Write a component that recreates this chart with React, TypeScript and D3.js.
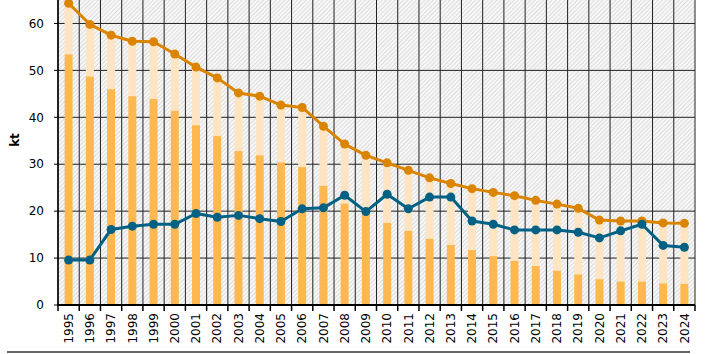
import React, { useEffect, useRef } from 'react';
import * as d3 from 'd3';

const years = [
  '1995', '1996', '1997', '1998', '1999', '2000', '2001', '2002', '2003', '2004',
  '2005', '2006', '2007', '2008', '2009', '2010', '2011', '2012', '2013', '2014',
  '2015', '2016', '2017', '2018', '2019', '2020', '2021', '2022', '2023', '2024',
];

// total (orange line, also top of the stacked bar)
const totalValues = [
  64.3, 59.8, 57.5, 56.2, 56.1, 53.5, 50.7, 48.4, 45.2, 44.5,
  42.6, 42.1, 38.1, 34.3, 31.9, 30.3, 28.7, 27.1, 25.9, 24.8,
  24.0, 23.3, 22.3, 21.5, 20.6, 18.1, 17.9, 17.9, 17.5, 17.4,
];

// dark orange part of the bar
const baseValues = [
  53.4, 48.7, 46.0, 44.5, 43.9, 41.4, 38.3, 36.0, 32.8, 31.9,
  30.4, 29.4, 25.4, 21.6, 19.7, 17.5, 15.8, 14.1, 12.8, 11.7,
  10.4, 9.4, 8.3, 7.3, 6.5, 5.5, 5.0, 5.0, 4.6, 4.5,
];

// blue line
const blueValues = [
  9.6, 9.6, 16.1, 16.8, 17.2, 17.2, 19.5, 18.7, 19.1, 18.4,
  17.8, 20.5, 20.7, 23.4, 19.9, 23.6, 20.5, 23.0, 23.0, 17.9,
  17.2, 16.0, 16.0, 16.0, 15.5, 14.3, 15.8, 17.2, 12.7, 12.3,
];

const yTicks = [0, 10, 20, 30, 40, 50, 60];

const WIDTH = 707;
const HEIGHT = 354;

export default function App() {
  const ref = useRef<SVGSVGElement | null>(null);

  useEffect(() => {
    if (!ref.current) return;
    const svg = d3.select(ref.current);
    svg.selectAll('*').remove();

    const left = 58, right = 695, top = 0, bottom = 305;
    const font = '"DejaVu Sans", Verdana, sans-serif';

    const x = d3.scaleBand<string>().domain(years).range([left, right]).padding(0);
    const y = d3.scaleLinear().domain([0, 65]).range([bottom, top]);
    const barW = 8;
    const cx = (yr: string) => x(yr)! + x.bandwidth() / 2;

    // hatch background
    const defs = svg.append('defs');
    const pat = defs.append('pattern')
      .attr('id', 'hatch')
      .attr('patternUnits', 'userSpaceOnUse')
      .attr('width', 3)
      .attr('height', 3)
      .attr('patternTransform', 'rotate(45)');
    pat.append('rect').attr('width', 3).attr('height', 3).attr('fill', '#f7f7f7');
    pat.append('line')
      .attr('x1', 0).attr('y1', 0).attr('x2', 0).attr('y2', 3)
      .attr('stroke', '#cfcfcf').attr('stroke-width', 1.3);

    svg.append('rect')
      .attr('x', left).attr('y', top)
      .attr('width', right - left).attr('height', bottom - top)
      .attr('fill', 'url(#hatch)');

    // grid
    yTicks.filter(t => t > 0).forEach(t => {
      svg.append('line')
        .attr('x1', left).attr('x2', right)
        .attr('y1', y(t)).attr('y2', y(t))
        .attr('stroke', '#222').attr('stroke-width', 1);
    });
    const bounds = years.map(yr => x(yr)!).concat([right]);
    bounds.forEach(b => {
      svg.append('line')
        .attr('x1', b).attr('x2', b)
        .attr('y1', top).attr('y2', bottom)
        .attr('stroke', '#222').attr('stroke-width', 1);
    });

    // bars
    svg.append('g').selectAll('rect')
      .data(years)
      .join('rect')
      .attr('x', d => cx(d) - barW / 2)
      .attr('width', barW)
      .attr('y', (_, i) => y(totalValues[i]))
      .attr('height', (_, i) => y(baseValues[i]) - y(totalValues[i]))
      .attr('fill', '#fde5c3');
    svg.append('g').selectAll('rect')
      .data(years)
      .join('rect')
      .attr('x', d => cx(d) - barW / 2)
      .attr('width', barW)
      .attr('y', (_, i) => y(baseValues[i]))
      .attr('height', (_, i) => bottom - y(baseValues[i]))
      .attr('fill', '#feb84f');

    // axes
    svg.append('line')
      .attr('x1', left).attr('x2', right)
      .attr('y1', bottom).attr('y2', bottom)
      .attr('stroke', '#000').attr('stroke-width', 2);
    svg.append('line')
      .attr('x1', left).attr('x2', left)
      .attr('y1', top).attr('y2', bottom + 1)
      .attr('stroke', '#000').attr('stroke-width', 1.5);
    bounds.forEach(b => {
      svg.append('line')
        .attr('x1', b).attr('x2', b)
        .attr('y1', bottom).attr('y2', bottom + 6)
        .attr('stroke', '#000').attr('stroke-width', 1.5);
    });
    yTicks.forEach(t => {
      svg.append('line')
        .attr('x1', left - 4).attr('x2', left)
        .attr('y1', y(t)).attr('y2', y(t))
        .attr('stroke', '#000').attr('stroke-width', 1);
      svg.append('text')
        .attr('x', 44).attr('y', y(t))
        .attr('dy', '0.35em')
        .attr('text-anchor', 'end')
        .attr('font-family', font)
        .attr('font-size', 12)
        .attr('fill', '#000')
        .text(t);
    });
    years.forEach(yr => {
      svg.append('text')
        .attr('transform', `translate(${cx(yr)},${bottom + 8}) rotate(-90)`)
        .attr('dy', '0.35em')
        .attr('text-anchor', 'end')
        .attr('font-family', font)
        .attr('font-size', 12)
        .attr('fill', '#000')
        .text(yr);
    });

    svg.append('text')
      .attr('transform', `translate(15,140) rotate(-90)`)
      .attr('dy', '0.35em')
      .attr('text-anchor', 'middle')
      .attr('font-family', font)
      .attr('font-size', 12)
      .attr('font-weight', 'bold')
      .text('kt');

    // lines
    const drawLine = (vals: number[], color: string) => {
      const line = d3.line<number>()
        .x((_, i) => cx(years[i]))
        .y(v => y(v));
      svg.append('path')
        .datum(vals)
        .attr('d', line)
        .attr('fill', 'none')
        .attr('stroke', color)
        .attr('stroke-width', 3)
        .attr('stroke-linejoin', 'round');
      svg.append('g').selectAll('circle')
        .data(vals)
        .join('circle')
        .attr('cx', (_, i) => cx(years[i]))
        .attr('cy', v => y(v))
        .attr('r', 4.5)
        .attr('fill', color);
    };
    drawLine(totalValues, '#db8400');
    drawLine(blueValues, '#006185');

    // bottom rule
    svg.append('line')
      .attr('x1', 7).attr('x2', 690)
      .attr('y1', 352).attr('y2', 352)
      .attr('stroke', '#666').attr('stroke-width', 2);
  }, []);

  return (
    <svg
      ref={ref}
      width={WIDTH}
      height={HEIGHT}
      style={{ position: 'absolute', left: 0, top: 0, background: '#fff' }}
    />
  );
}
